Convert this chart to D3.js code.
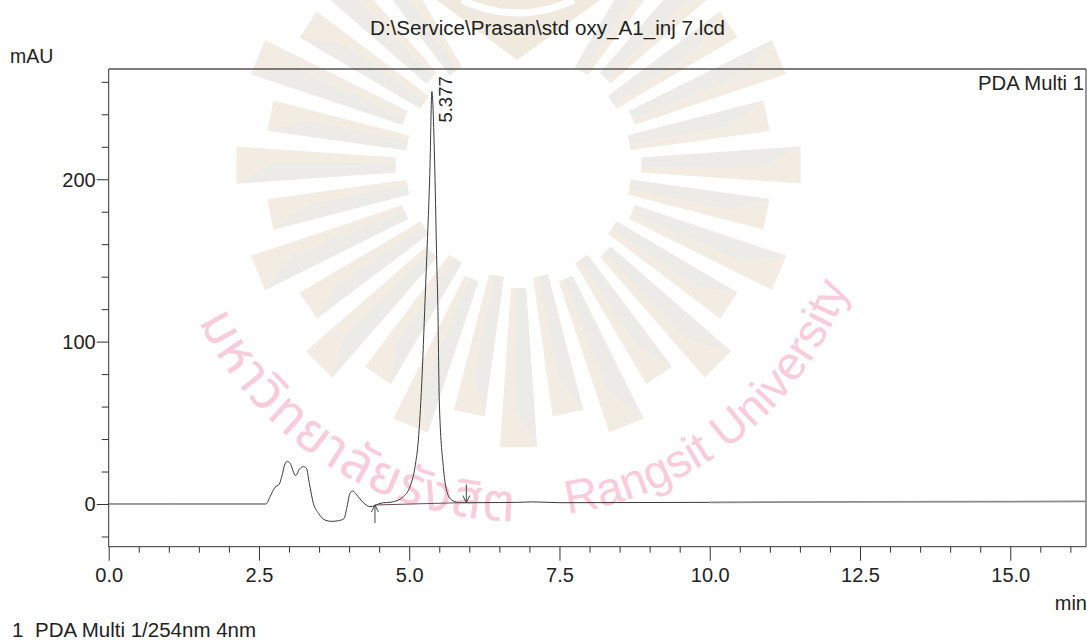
<!DOCTYPE html>
<html><head><meta charset="utf-8">
<script src="https://cdnjs.cloudflare.com/ajax/libs/d3/7.8.5/d3.min.js"></script>
<style>html,body{margin:0;padding:0;background:#fff;overflow:hidden}svg{display:block}
text{font-family:"Liberation Sans",Arial,sans-serif;fill:#222}</style></head><body>
<svg id="c" width="1087" height="640"></svg>
<script>
// chromatogram (time in min, signal in mAU)
const times = [0,1,2,2.517,2.617,2.684,2.767,2.839,2.878,2.933,2.972,3.017,3.11,3.172,3.238,3.29,3.338,3.405,3.49,3.6,3.71,3.82,3.915,3.96,4.015,4.06,4.127,4.237,4.348,4.414,4.514,4.736,4.9,5.013,5.097,5.152,5.208,5.263,5.285,5.345,5.377,5.425,5.46,5.475,5.5,5.567,5.62,5.705,5.817,5.955,6.5,6.8,7.05,7.5,10];
const signal = [0,0,0,0,0,4.5,10.3,12.3,16.8,24.6,26.3,25.1,17.5,21.4,23,22,12.7,0.4,-5.7,-9.9,-10.7,-10.3,-9,-2.7,6.6,8,5.6,0.8,-1.6,-1.2,0.4,1.4,4.5,10.7,23,39.4,74,125,146,207,254,207,146,125,64,23,8.6,2.5,1,0.8,0.9,1,1.3,0.8,1];
const tailTimes = [10,12.5,16.26];
const tailSignal = [1,1.3,1.6];
const xMajor = [0,2.5,5,7.5,10,12.5,15];
const xLabels = ["0.0","2.5","5.0","7.5","10.0","12.5","15.0"];
const yMajor = [0,100,200];
const yMinor = [-20,20,40,60,80,120,140,160,180,220,240,260];
const xMinor = [0.5,1,1.5,2,3,3.5,4,4.5,5.5,6,6.5,7,8,8.5,9,9.5,10.5,11,11.5,12,13,13.5,14,14.5,15.5,16];
const peakTime = [5.377], peakValue = [254], peakLabel = ["5.377"];
const integStart = [4.43,-0.6], integEnd = [5.95,0.9];
const title = "D:\\Service\\Prasan\\std oxy_A1_inj 7.lcd";
const legendNo = "1", legendText = "PDA Multi 1/254nm 4nm";
const wmThai = "มหาวิทยาลัยรังสิต", wmLatin = "Rangsit University";
// watermark rays: step number around the emblem (11.25 deg steps from left), odd = short
const raySteps = [-5,-4,-3,-2,-1,0,1,2,3,4,5,6,7,8,9,10,11,12,13,14,15,16,17,18,19,20,21];

const svg = d3.select("#c");
const x = d3.scaleLinear().domain([0,16.26]).range([108.7,1086]);
const y = d3.scaleLinear().domain([-26.3,267.9]).range([546.7,69]);
const [L,R] = x.range(), [B,T] = y.range();

// ---- watermark
const wm = svg.append("g");
const cx=518.5, cy=165;
const pt=(a,r,o)=>{const c=Math.cos(a),s=Math.sin(a);return [cx-c*r-s*o, cy+s*r-c*o];};
raySteps.forEach(k=>{
  const a=k*Math.PI/16, long=Math.abs(k)%2===0;
  const r0=long?123:113, r1=long?282:253, w0=7.5, w1=long?18.5:15.5;
  wm.append("polygon").attr("points",[pt(a,r0,-w0),pt(a,r0,w0),pt(a,r1,w1),pt(a,r1,-w1)].join(" ")).attr("fill","#f2ece2");
  wm.append("polygon").attr("points",[pt(a,r0,-w0),pt(a,r0,w0*0.2),pt(a,r1-38,w1*0.15),pt(a,r1,-w1)].join(" ")).attr("fill","#ecebe7");
});
wm.append("path").attr("d",d3.line()([[437,0],[517,60],[600,0]])).attr("fill","#f0e9de");
wm.append("path").attr("d","M462,0 Q518,26 574,0").attr("fill","none").attr("stroke","#fff").attr("stroke-width",7);

const arc=(rad,a0,a1,id)=>{ // angles measured from straight down, positive to the left
  const p0=[cx-rad*Math.sin(a0),cy+rad*Math.cos(a0)], p1=[cx-rad*Math.sin(a1),cy+rad*Math.cos(a1)];
  svg.append("defs").append("path").attr("id",id).attr("d",`M${p0} A${rad},${rad} 0 0 0 ${p1}`);
};
const D=Math.PI/180;
arc(356,64*D,-6*D,"a1"); arc(352,-8*D,-80*D,"a2");
wm.append("text").attr("font-size",53).attr("letter-spacing",1.4).style("fill","#f9cbdb").style("font-family","'Noto Sans Thai','Noto Sans','DejaVu Sans',sans-serif")
  .append("textPath").attr("href","#a1").text(wmThai);
wm.append("text").attr("font-size",47).style("fill","#f9cbdb")
  .append("textPath").attr("href","#a2").text(wmLatin);

// ---- axes
const axX=(vals,len,fmt)=>d3.axisBottom(x).tickValues(vals).tickSize(len).tickFormat(fmt||"");
const axY=(vals,len,fmt)=>d3.axisLeft(y).tickValues(vals).tickSize(len).tickFormat(fmt||"");
const style=g=>{g.select(".domain").remove();g.selectAll("line").attr("stroke","#333").attr("stroke-width",1);
  g.selectAll("text").attr("font-size",20).style("font-family","'Liberation Sans'").attr("fill","#222");};
svg.append("g").attr("transform",`translate(0,${B})`).call(axX(xMinor,6)).call(style);
svg.append("g").attr("transform",`translate(0,${B})`).call(axX(xMajor,14,(d,i)=>xLabels[i])).call(style)
  .selectAll("text").attr("dy",0).attr("y",35);
svg.append("g").attr("transform",`translate(${L},0)`).call(axY(yMinor,7)).call(style);
svg.append("g").attr("transform",`translate(${L},0)`).call(axY(yMajor,12,d=>d)).call(style)
  .selectAll("text").attr("x",-13).attr("dy","0.35em");

// ---- frame
const fr=svg.append("g").attr("fill","none");
fr.append("path").attr("d",d3.line()([[L,T],[R,T]])).attr("stroke","#555").attr("stroke-width",1.6);
fr.append("path").attr("d",d3.line()([[L,T],[L,B],[R,B],[R,T]])).attr("stroke","#333").attr("stroke-width",1);

// ---- traces
const line=d3.line().x(d=>x(d[0])).y(d=>y(d[1])).curve(d3.curveMonotoneX);
svg.append("path").datum(tailTimes.map((t,i)=>[t,tailSignal[i]])).attr("d",line).attr("fill","none").attr("stroke","#8c8c8c").attr("stroke-width",1.8);
svg.append("path").datum(times.map((t,i)=>[t,signal[i]])).attr("d",line).attr("fill","none").attr("stroke","#3a3a3a").attr("stroke-width",1);
svg.append("path").datum([integStart,integEnd]).attr("d",d3.line().x(d=>x(d[0])).y(d=>y(d[1]))).attr("fill","none").attr("stroke","#6a4a50").attr("stroke-width",1);

// integration arrows
const arrow=(t,v,dir)=>{const px=x(t),py=y(v);const len=dir*18;
  svg.append("path").attr("d",`M${px},${py} V${py+len} M${px-3.5},${py+dir*7} L${px},${py} L${px+3.5},${py+dir*7}`)
    .attr("fill","none").attr("stroke","#444").attr("stroke-width",1);};
arrow(integStart[0],integStart[1],1);
arrow(integEnd[0],integEnd[1],-1);

// ---- text
svg.append("text").attr("x",547.5).attr("y",35).attr("text-anchor","middle").attr("font-size",19.5).attr("textLength",355).attr("lengthAdjust","spacingAndGlyphs").text(title);
svg.append("text").attr("x",10).attr("y",63).attr("font-size",19.5).text("mAU");
svg.append("text").attr("x",1084).attr("y",90).attr("text-anchor","end").attr("font-size",20.3).text("PDA Multi 1");
svg.append("text").attr("x",1087).attr("y",610).attr("text-anchor","end").attr("font-size",20).text("min");
svg.append("text").attr("x",12).attr("y",637).attr("font-size",20.5).text(legendNo);
svg.append("text").attr("x",35).attr("y",637).attr("font-size",20.5).text(legendText);
svg.selectAll(".pk").data(peakTime).join("text").attr("font-size",18.5)
  .attr("transform",(d,i)=>`translate(${x(d)+20},${y(peakValue[i])+31}) rotate(-90)`).text((d,i)=>peakLabel[i]);
</script></body></html>
